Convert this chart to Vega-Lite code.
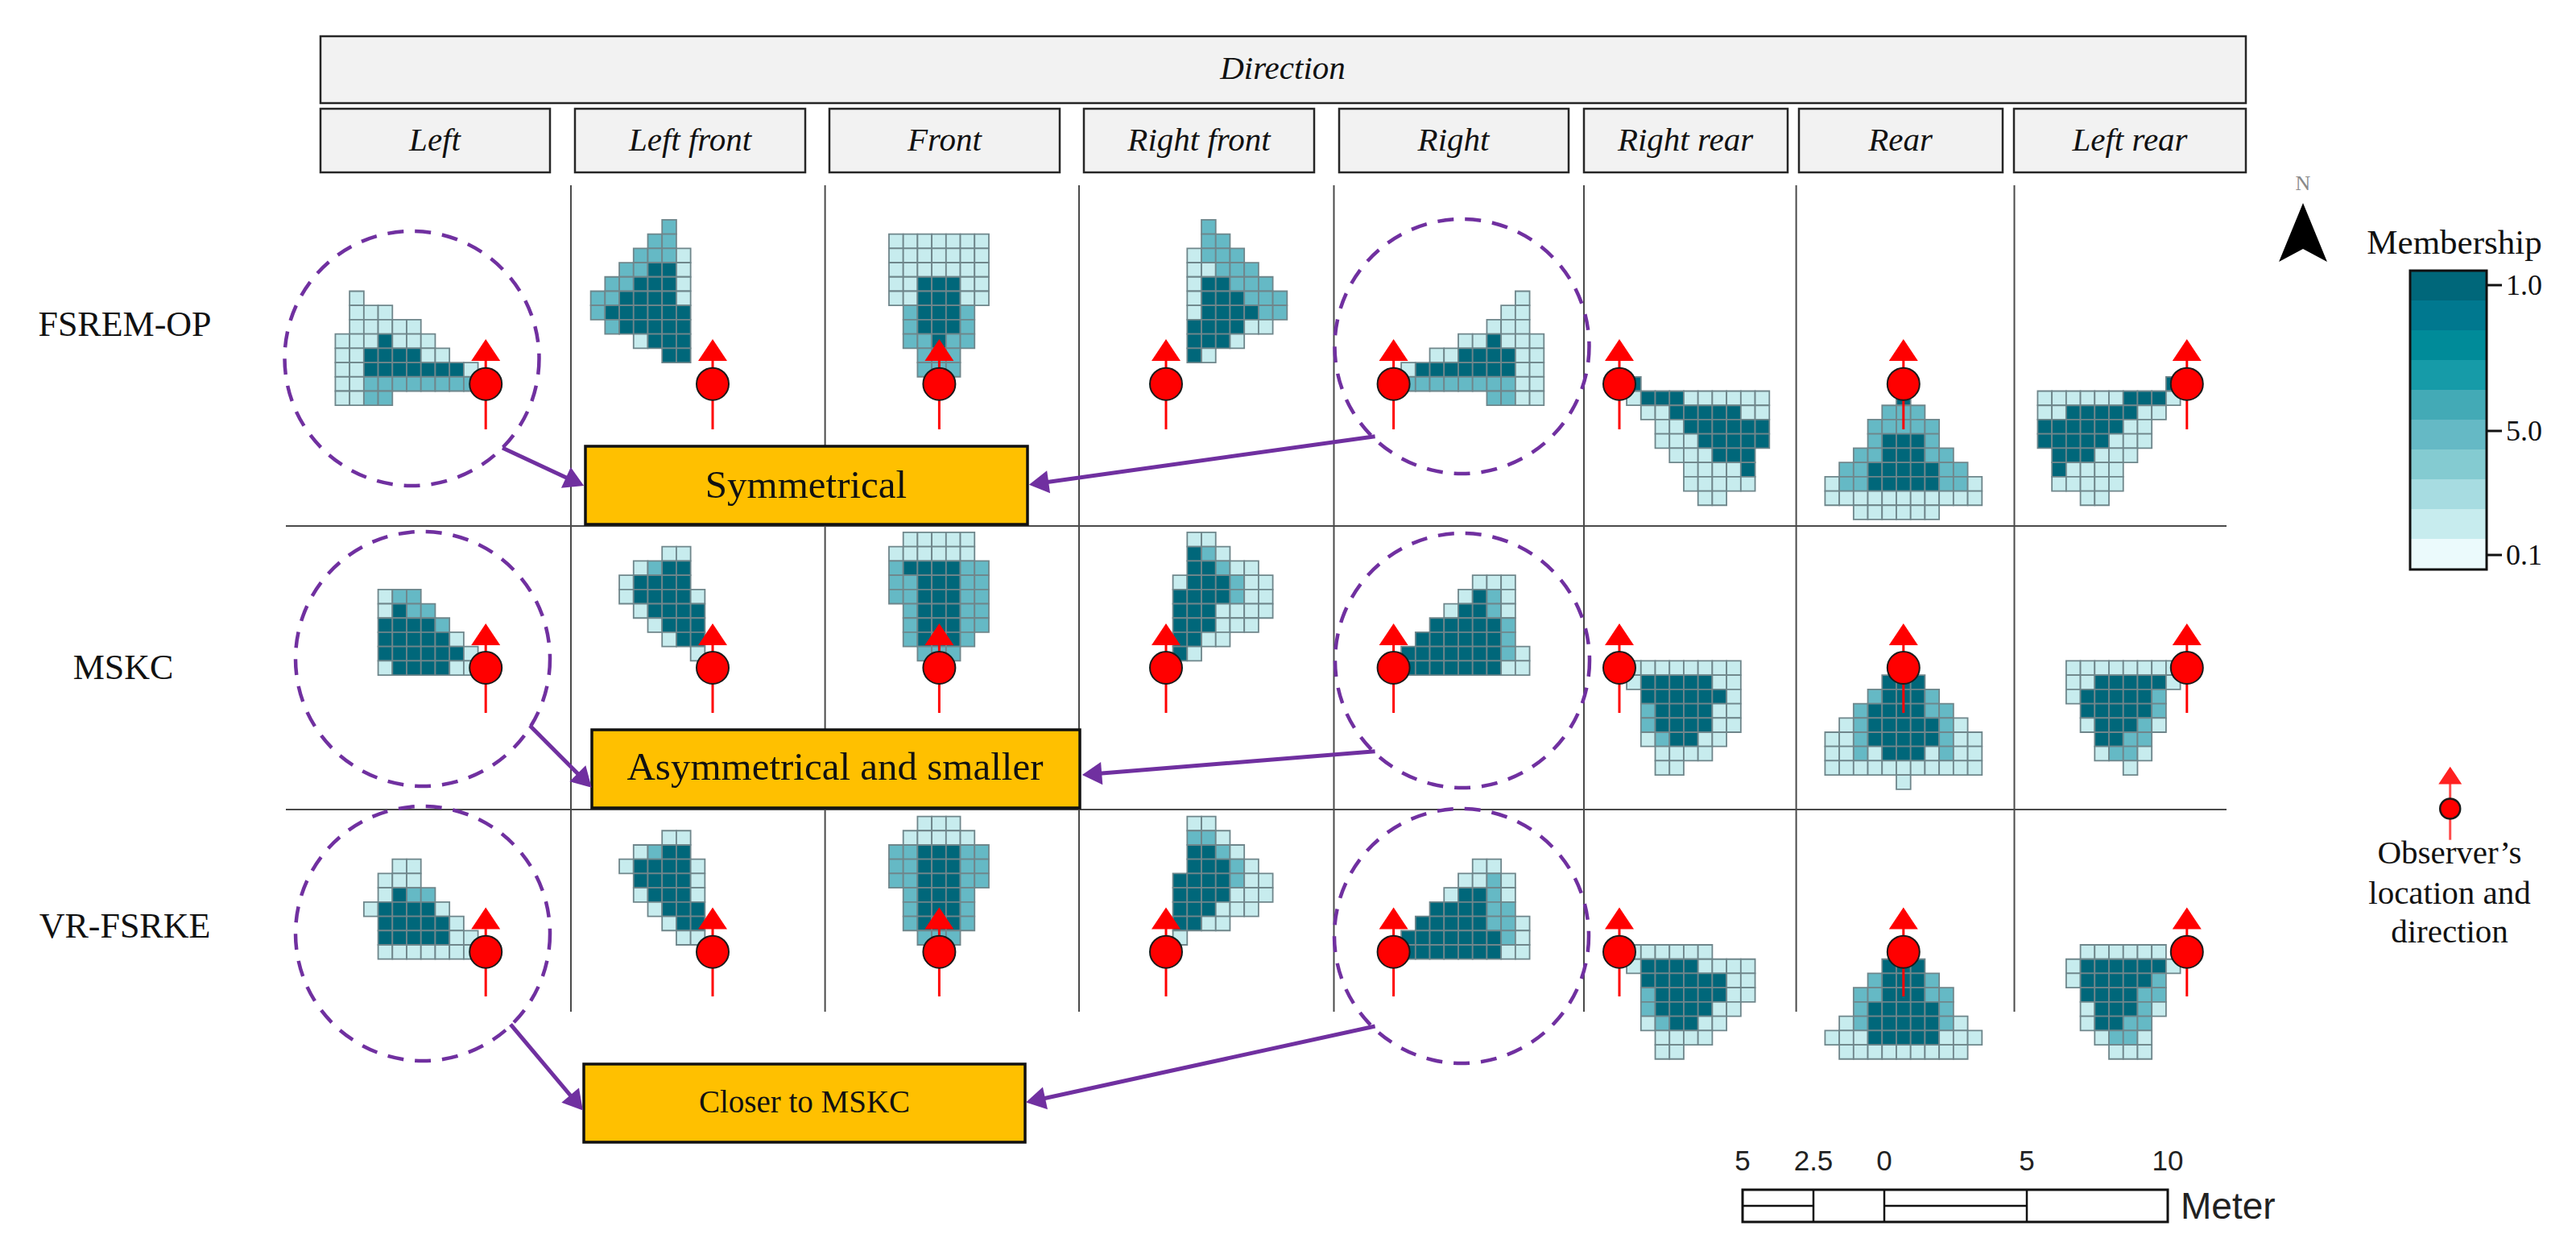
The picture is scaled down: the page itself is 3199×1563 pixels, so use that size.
{"$schema":"https://vega.github.io/schema/vega-lite/v6.json","width":3199,"height":1563,"autosize":{"type":"fit","contains":"padding"},"padding":0,"background":"white","config":{"view":{"stroke":null}},"resolve":{"scale":{"x":"independent","y":"independent"}},"layer":[
{"data":{"values":[
{"x":25,"y":20.9,"m":0.2},{"x":25,"y":21.9,"m":0.2},{"x":26,"y":21.9,"m":0.2},{"x":27,"y":21.9,"m":0.2},{"x":25,"y":22.9,"m":0.2},{"x":26,"y":22.9,"m":0.2},{"x":27,"y":22.9,"m":0.2},{"x":28,"y":22.9,"m":0.2},{"x":29,"y":22.9,"m":0.2},{"x":24,"y":23.9,"m":0.2},{"x":25,"y":23.9,"m":0.2},{"x":26,"y":23.9,"m":0.2},{"x":27,"y":23.9,"m":1},{"x":28,"y":23.9,"m":0.2},{"x":29,"y":23.9,"m":0.2},{"x":30,"y":23.9,"m":0.2},{"x":24,"y":24.9,"m":0.2},{"x":25,"y":24.9,"m":0.2},{"x":26,"y":24.9,"m":1},{"x":27,"y":24.9,"m":1},{"x":28,"y":24.9,"m":1},{"x":29,"y":24.9,"m":1},{"x":30,"y":24.9,"m":0.2},{"x":31,"y":24.9,"m":0.2},{"x":24,"y":25.9,"m":0.2},{"x":25,"y":25.9,"m":0.2},{"x":26,"y":25.9,"m":1},{"x":27,"y":25.9,"m":1},{"x":28,"y":25.9,"m":1},{"x":29,"y":25.9,"m":1},{"x":30,"y":25.9,"m":1},{"x":31,"y":25.9,"m":1},{"x":32,"y":25.9,"m":1},{"x":33,"y":25.9,"m":0.2},{"x":24,"y":26.9,"m":0.2},{"x":25,"y":26.9,"m":0.2},{"x":26,"y":26.9,"m":0.5},{"x":27,"y":26.9,"m":0.5},{"x":28,"y":26.9,"m":0.5},{"x":29,"y":26.9,"m":0.5},{"x":30,"y":26.9,"m":0.5},{"x":31,"y":26.9,"m":0.5},{"x":32,"y":26.9,"m":0.5},{"x":33,"y":26.9,"m":0.5},{"x":24,"y":27.9,"m":0.2},{"x":25,"y":27.9,"m":0.2},{"x":26,"y":27.9,"m":0.5},{"x":27,"y":27.9,"m":0.5},
{"x":46.9,"y":15.9,"m":0.5},{"x":45.9,"y":16.9,"m":0.5},{"x":46.9,"y":16.9,"m":0.5},{"x":44.9,"y":17.9,"m":0.5},{"x":45.9,"y":17.9,"m":0.5},{"x":46.9,"y":17.9,"m":0.5},{"x":47.9,"y":17.9,"m":0.2},{"x":43.9,"y":18.9,"m":0.5},{"x":44.9,"y":18.9,"m":0.5},{"x":45.9,"y":18.9,"m":1},{"x":46.9,"y":18.9,"m":1},{"x":47.9,"y":18.9,"m":0.2},{"x":42.9,"y":19.9,"m":0.5},{"x":43.9,"y":19.9,"m":0.5},{"x":44.9,"y":19.9,"m":1},{"x":45.9,"y":19.9,"m":1},{"x":46.9,"y":19.9,"m":1},{"x":47.9,"y":19.9,"m":0.2},{"x":41.9,"y":20.9,"m":0.5},{"x":42.9,"y":20.9,"m":0.5},{"x":43.9,"y":20.9,"m":1},{"x":44.9,"y":20.9,"m":1},{"x":45.9,"y":20.9,"m":1},{"x":46.9,"y":20.9,"m":1},{"x":47.9,"y":20.9,"m":0.2},{"x":41.9,"y":21.9,"m":0.5},{"x":42.9,"y":21.9,"m":1},{"x":43.9,"y":21.9,"m":1},{"x":44.9,"y":21.9,"m":1},{"x":45.9,"y":21.9,"m":1},{"x":46.9,"y":21.9,"m":1},{"x":47.9,"y":21.9,"m":1},{"x":42.9,"y":22.9,"m":0.5},{"x":43.9,"y":22.9,"m":1},{"x":44.9,"y":22.9,"m":1},{"x":45.9,"y":22.9,"m":1},{"x":46.9,"y":22.9,"m":1},{"x":47.9,"y":22.9,"m":1},{"x":44.9,"y":23.9,"m":0.2},{"x":45.9,"y":23.9,"m":1},{"x":46.9,"y":23.9,"m":1},{"x":47.9,"y":23.9,"m":1},{"x":46.9,"y":24.9,"m":1},{"x":47.9,"y":24.9,"m":1},
{"x":62.8,"y":16.9,"m":0.2},{"x":63.8,"y":16.9,"m":0.2},{"x":64.8,"y":16.9,"m":0.2},{"x":65.8,"y":16.9,"m":0.2},{"x":66.8,"y":16.9,"m":0.2},{"x":67.8,"y":16.9,"m":0.2},{"x":68.8,"y":16.9,"m":0.2},{"x":62.8,"y":17.9,"m":0.2},{"x":63.8,"y":17.9,"m":0.2},{"x":64.8,"y":17.9,"m":0.2},{"x":65.8,"y":17.9,"m":0.2},{"x":66.8,"y":17.9,"m":0.2},{"x":67.8,"y":17.9,"m":0.2},{"x":68.8,"y":17.9,"m":0.2},{"x":62.8,"y":18.9,"m":0.2},{"x":63.8,"y":18.9,"m":0.2},{"x":64.8,"y":18.9,"m":0.2},{"x":65.8,"y":18.9,"m":0.2},{"x":66.8,"y":18.9,"m":0.2},{"x":67.8,"y":18.9,"m":0.2},{"x":68.8,"y":18.9,"m":0.2},{"x":62.8,"y":19.9,"m":0.2},{"x":63.8,"y":19.9,"m":0.2},{"x":64.8,"y":19.9,"m":1},{"x":65.8,"y":19.9,"m":1},{"x":66.8,"y":19.9,"m":1},{"x":67.8,"y":19.9,"m":0.2},{"x":68.8,"y":19.9,"m":0.2},{"x":62.8,"y":20.9,"m":0.2},{"x":63.8,"y":20.9,"m":0.2},{"x":64.8,"y":20.9,"m":1},{"x":65.8,"y":20.9,"m":1},{"x":66.8,"y":20.9,"m":1},{"x":67.8,"y":20.9,"m":0.2},{"x":68.8,"y":20.9,"m":0.2},{"x":63.8,"y":21.9,"m":0.5},{"x":64.8,"y":21.9,"m":1},{"x":65.8,"y":21.9,"m":1},{"x":66.8,"y":21.9,"m":1},{"x":67.8,"y":21.9,"m":0.5},{"x":63.8,"y":22.9,"m":0.5},{"x":64.8,"y":22.9,"m":1},{"x":65.8,"y":22.9,"m":1},{"x":66.8,"y":22.9,"m":1},{"x":67.8,"y":22.9,"m":0.5},{"x":63.8,"y":23.9,"m":0.5},{"x":64.8,"y":23.9,"m":0.5},{"x":65.8,"y":23.9,"m":1},{"x":66.8,"y":23.9,"m":0.5},{"x":67.8,"y":23.9,"m":0.5},{"x":64.8,"y":24.9,"m":0.5},{"x":65.8,"y":24.9,"m":0.5},{"x":66.8,"y":24.9,"m":0.5},{"x":64.8,"y":25.9,"m":0.5},{"x":65.8,"y":25.9,"m":0.5},{"x":66.8,"y":25.9,"m":0.5},
{"x":84.7,"y":15.9,"m":0.5},{"x":84.7,"y":16.9,"m":0.5},{"x":85.7,"y":16.9,"m":0.5},{"x":83.7,"y":17.9,"m":0.2},{"x":84.7,"y":17.9,"m":0.5},{"x":85.7,"y":17.9,"m":0.5},{"x":86.7,"y":17.9,"m":0.5},{"x":83.7,"y":18.9,"m":0.2},{"x":84.7,"y":18.9,"m":0.2},{"x":85.7,"y":18.9,"m":0.5},{"x":86.7,"y":18.9,"m":0.5},{"x":87.7,"y":18.9,"m":0.5},{"x":83.7,"y":19.9,"m":0.2},{"x":84.7,"y":19.9,"m":1},{"x":85.7,"y":19.9,"m":1},{"x":86.7,"y":19.9,"m":0.5},{"x":87.7,"y":19.9,"m":0.5},{"x":88.7,"y":19.9,"m":0.5},{"x":83.7,"y":20.9,"m":0.2},{"x":84.7,"y":20.9,"m":1},{"x":85.7,"y":20.9,"m":1},{"x":86.7,"y":20.9,"m":1},{"x":87.7,"y":20.9,"m":0.5},{"x":88.7,"y":20.9,"m":0.5},{"x":89.7,"y":20.9,"m":0.5},{"x":83.7,"y":21.9,"m":0.2},{"x":84.7,"y":21.9,"m":1},{"x":85.7,"y":21.9,"m":1},{"x":86.7,"y":21.9,"m":1},{"x":87.7,"y":21.9,"m":1},{"x":88.7,"y":21.9,"m":0.5},{"x":89.7,"y":21.9,"m":0.5},{"x":83.7,"y":22.9,"m":1},{"x":84.7,"y":22.9,"m":1},{"x":85.7,"y":22.9,"m":1},{"x":86.7,"y":22.9,"m":1},{"x":87.7,"y":22.9,"m":0.2},{"x":88.7,"y":22.9,"m":0.2},{"x":83.7,"y":23.9,"m":1},{"x":84.7,"y":23.9,"m":1},{"x":85.7,"y":23.9,"m":1},{"x":86.7,"y":23.9,"m":0.2},{"x":83.7,"y":24.9,"m":1},{"x":84.7,"y":24.9,"m":0.2},
{"x":106.7,"y":20.9,"m":0.2},{"x":105.7,"y":21.9,"m":0.2},{"x":106.7,"y":21.9,"m":0.2},{"x":104.7,"y":22.9,"m":0.2},{"x":105.7,"y":22.9,"m":0.2},{"x":106.7,"y":22.9,"m":0.2},{"x":102.7,"y":23.9,"m":0.2},{"x":103.7,"y":23.9,"m":0.2},{"x":104.7,"y":23.9,"m":1},{"x":105.7,"y":23.9,"m":0.2},{"x":106.7,"y":23.9,"m":0.2},{"x":107.7,"y":23.9,"m":0.2},{"x":100.7,"y":24.9,"m":0.2},{"x":101.7,"y":24.9,"m":0.2},{"x":102.7,"y":24.9,"m":1},{"x":103.7,"y":24.9,"m":1},{"x":104.7,"y":24.9,"m":1},{"x":105.7,"y":24.9,"m":1},{"x":106.7,"y":24.9,"m":0.2},{"x":107.7,"y":24.9,"m":0.2},{"x":98.7,"y":25.9,"m":0.2},{"x":99.7,"y":25.9,"m":1},{"x":100.7,"y":25.9,"m":1},{"x":101.7,"y":25.9,"m":1},{"x":102.7,"y":25.9,"m":1},{"x":103.7,"y":25.9,"m":1},{"x":104.7,"y":25.9,"m":1},{"x":105.7,"y":25.9,"m":1},{"x":106.7,"y":25.9,"m":0.2},{"x":107.7,"y":25.9,"m":0.2},{"x":98.7,"y":26.9,"m":0.5},{"x":99.7,"y":26.9,"m":0.5},{"x":100.7,"y":26.9,"m":0.5},{"x":101.7,"y":26.9,"m":0.5},{"x":102.7,"y":26.9,"m":0.5},{"x":103.7,"y":26.9,"m":0.5},{"x":104.7,"y":26.9,"m":0.5},{"x":105.7,"y":26.9,"m":0.5},{"x":106.7,"y":26.9,"m":0.2},{"x":107.7,"y":26.9,"m":0.2},{"x":104.7,"y":27.9,"m":0.5},{"x":105.7,"y":27.9,"m":0.5},{"x":106.7,"y":27.9,"m":0.2},{"x":107.7,"y":27.9,"m":0.2},
{"x":114.5,"y":26.9,"m":1},{"x":114.5,"y":27.9,"m":0.2},{"x":115.5,"y":27.9,"m":1},{"x":116.5,"y":27.9,"m":1},{"x":117.5,"y":27.9,"m":1},{"x":118.5,"y":27.9,"m":0.2},{"x":119.5,"y":27.9,"m":0.2},{"x":120.5,"y":27.9,"m":0.2},{"x":121.5,"y":27.9,"m":0.2},{"x":122.5,"y":27.9,"m":0.2},{"x":123.5,"y":27.9,"m":0.2},{"x":115.5,"y":28.9,"m":0.2},{"x":116.5,"y":28.9,"m":0.2},{"x":117.5,"y":28.9,"m":1},{"x":118.5,"y":28.9,"m":1},{"x":119.5,"y":28.9,"m":1},{"x":120.5,"y":28.9,"m":1},{"x":121.5,"y":28.9,"m":1},{"x":122.5,"y":28.9,"m":0.2},{"x":123.5,"y":28.9,"m":0.2},{"x":116.5,"y":29.9,"m":0.2},{"x":117.5,"y":29.9,"m":0.2},{"x":118.5,"y":29.9,"m":1},{"x":119.5,"y":29.9,"m":1},{"x":120.5,"y":29.9,"m":1},{"x":121.5,"y":29.9,"m":1},{"x":122.5,"y":29.9,"m":1},{"x":123.5,"y":29.9,"m":1},{"x":116.5,"y":30.9,"m":0.2},{"x":117.5,"y":30.9,"m":0.2},{"x":118.5,"y":30.9,"m":0.2},{"x":119.5,"y":30.9,"m":1},{"x":120.5,"y":30.9,"m":1},{"x":121.5,"y":30.9,"m":1},{"x":122.5,"y":30.9,"m":1},{"x":123.5,"y":30.9,"m":1},{"x":117.5,"y":31.9,"m":0.2},{"x":118.5,"y":31.9,"m":0.2},{"x":119.5,"y":31.9,"m":0.2},{"x":120.5,"y":31.9,"m":1},{"x":121.5,"y":31.9,"m":1},{"x":122.5,"y":31.9,"m":1},{"x":118.5,"y":32.9,"m":0.2},{"x":119.5,"y":32.9,"m":0.2},{"x":120.5,"y":32.9,"m":0.2},{"x":121.5,"y":32.9,"m":0.2},{"x":122.5,"y":32.9,"m":1},{"x":118.5,"y":33.9,"m":0.2},{"x":119.5,"y":33.9,"m":0.2},{"x":120.5,"y":33.9,"m":0.2},{"x":121.5,"y":33.9,"m":0.2},{"x":122.5,"y":33.9,"m":0.2},{"x":119.5,"y":34.9,"m":0.2},{"x":120.5,"y":34.9,"m":0.2},
{"x":133.4,"y":27.9,"m":1},{"x":132.4,"y":28.9,"m":0.5},{"x":133.4,"y":28.9,"m":0.5},{"x":134.4,"y":28.9,"m":0.5},{"x":131.4,"y":29.9,"m":0.5},{"x":132.4,"y":29.9,"m":0.5},{"x":133.4,"y":29.9,"m":0.5},{"x":134.4,"y":29.9,"m":0.5},{"x":135.4,"y":29.9,"m":0.5},{"x":131.4,"y":30.9,"m":0.5},{"x":132.4,"y":30.9,"m":1},{"x":133.4,"y":30.9,"m":1},{"x":134.4,"y":30.9,"m":1},{"x":135.4,"y":30.9,"m":0.5},{"x":130.4,"y":31.9,"m":0.5},{"x":131.4,"y":31.9,"m":0.5},{"x":132.4,"y":31.9,"m":1},{"x":133.4,"y":31.9,"m":1},{"x":134.4,"y":31.9,"m":1},{"x":135.4,"y":31.9,"m":0.5},{"x":136.4,"y":31.9,"m":0.5},{"x":129.4,"y":32.9,"m":0.5},{"x":130.4,"y":32.9,"m":0.5},{"x":131.4,"y":32.9,"m":1},{"x":132.4,"y":32.9,"m":1},{"x":133.4,"y":32.9,"m":1},{"x":134.4,"y":32.9,"m":1},{"x":135.4,"y":32.9,"m":1},{"x":136.4,"y":32.9,"m":0.5},{"x":137.4,"y":32.9,"m":0.5},{"x":128.4,"y":33.9,"m":0.2},{"x":129.4,"y":33.9,"m":0.5},{"x":130.4,"y":33.9,"m":0.5},{"x":131.4,"y":33.9,"m":1},{"x":132.4,"y":33.9,"m":1},{"x":133.4,"y":33.9,"m":1},{"x":134.4,"y":33.9,"m":1},{"x":135.4,"y":33.9,"m":1},{"x":136.4,"y":33.9,"m":0.5},{"x":137.4,"y":33.9,"m":0.5},{"x":138.4,"y":33.9,"m":0.2},{"x":128.4,"y":34.9,"m":0.2},{"x":129.4,"y":34.9,"m":0.2},{"x":130.4,"y":34.9,"m":0.2},{"x":131.4,"y":34.9,"m":0.2},{"x":132.4,"y":34.9,"m":0.2},{"x":133.4,"y":34.9,"m":0.2},{"x":134.4,"y":34.9,"m":0.2},{"x":135.4,"y":34.9,"m":0.2},{"x":136.4,"y":34.9,"m":0.2},{"x":137.4,"y":34.9,"m":0.2},{"x":138.4,"y":34.9,"m":0.2},{"x":130.4,"y":35.9,"m":0.2},{"x":131.4,"y":35.9,"m":0.2},{"x":132.4,"y":35.9,"m":0.2},{"x":133.4,"y":35.9,"m":0.2},{"x":134.4,"y":35.9,"m":0.2},{"x":135.4,"y":35.9,"m":0.2},
{"x":152.3,"y":26.9,"m":1},{"x":143.3,"y":27.9,"m":0.2},{"x":144.3,"y":27.9,"m":0.2},{"x":145.3,"y":27.9,"m":0.2},{"x":146.3,"y":27.9,"m":0.2},{"x":147.3,"y":27.9,"m":0.2},{"x":148.3,"y":27.9,"m":0.2},{"x":149.3,"y":27.9,"m":1},{"x":150.3,"y":27.9,"m":1},{"x":151.3,"y":27.9,"m":1},{"x":152.3,"y":27.9,"m":0.2},{"x":143.3,"y":28.9,"m":0.2},{"x":144.3,"y":28.9,"m":0.2},{"x":145.3,"y":28.9,"m":1},{"x":146.3,"y":28.9,"m":1},{"x":147.3,"y":28.9,"m":1},{"x":148.3,"y":28.9,"m":1},{"x":149.3,"y":28.9,"m":1},{"x":150.3,"y":28.9,"m":0.2},{"x":151.3,"y":28.9,"m":0.2},{"x":143.3,"y":29.9,"m":1},{"x":144.3,"y":29.9,"m":1},{"x":145.3,"y":29.9,"m":1},{"x":146.3,"y":29.9,"m":1},{"x":147.3,"y":29.9,"m":1},{"x":148.3,"y":29.9,"m":1},{"x":149.3,"y":29.9,"m":0.2},{"x":150.3,"y":29.9,"m":0.2},{"x":143.3,"y":30.9,"m":1},{"x":144.3,"y":30.9,"m":1},{"x":145.3,"y":30.9,"m":1},{"x":146.3,"y":30.9,"m":1},{"x":147.3,"y":30.9,"m":1},{"x":148.3,"y":30.9,"m":0.2},{"x":149.3,"y":30.9,"m":0.2},{"x":150.3,"y":30.9,"m":0.2},{"x":144.3,"y":31.9,"m":1},{"x":145.3,"y":31.9,"m":1},{"x":146.3,"y":31.9,"m":1},{"x":147.3,"y":31.9,"m":0.2},{"x":148.3,"y":31.9,"m":0.2},{"x":149.3,"y":31.9,"m":0.2},{"x":144.3,"y":32.9,"m":1},{"x":145.3,"y":32.9,"m":0.2},{"x":146.3,"y":32.9,"m":0.2},{"x":147.3,"y":32.9,"m":0.2},{"x":148.3,"y":32.9,"m":0.2},{"x":144.3,"y":33.9,"m":0.2},{"x":145.3,"y":33.9,"m":0.2},{"x":146.3,"y":33.9,"m":0.2},{"x":147.3,"y":33.9,"m":0.2},{"x":148.3,"y":33.9,"m":0.2},{"x":146.3,"y":34.9,"m":0.2},{"x":147.3,"y":34.9,"m":0.2},
{"x":27,"y":41.8,"m":0.2},{"x":28,"y":41.8,"m":0.5},{"x":29,"y":41.8,"m":0.5},{"x":27,"y":42.8,"m":0.2},{"x":28,"y":42.8,"m":1},{"x":29,"y":42.8,"m":0.5},{"x":30,"y":42.8,"m":0.5},{"x":27,"y":43.8,"m":1},{"x":28,"y":43.8,"m":1},{"x":29,"y":43.8,"m":1},{"x":30,"y":43.8,"m":1},{"x":31,"y":43.8,"m":0.5},{"x":27,"y":44.8,"m":1},{"x":28,"y":44.8,"m":1},{"x":29,"y":44.8,"m":1},{"x":30,"y":44.8,"m":1},{"x":31,"y":44.8,"m":1},{"x":32,"y":44.8,"m":0.2},{"x":27,"y":45.8,"m":1},{"x":28,"y":45.8,"m":1},{"x":29,"y":45.8,"m":1},{"x":30,"y":45.8,"m":1},{"x":31,"y":45.8,"m":1},{"x":32,"y":45.8,"m":1},{"x":33,"y":45.8,"m":0.2},{"x":27,"y":46.8,"m":0.2},{"x":28,"y":46.8,"m":1},{"x":29,"y":46.8,"m":1},{"x":30,"y":46.8,"m":1},{"x":31,"y":46.8,"m":1},{"x":32,"y":46.8,"m":0.2},{"x":33,"y":46.8,"m":0.2},
{"x":46.9,"y":38.8,"m":0.2},{"x":47.9,"y":38.8,"m":0.2},{"x":44.9,"y":39.8,"m":0.2},{"x":45.9,"y":39.8,"m":0.5},{"x":46.9,"y":39.8,"m":1},{"x":47.9,"y":39.8,"m":1},{"x":43.9,"y":40.8,"m":0.2},{"x":44.9,"y":40.8,"m":1},{"x":45.9,"y":40.8,"m":1},{"x":46.9,"y":40.8,"m":1},{"x":47.9,"y":40.8,"m":1},{"x":43.9,"y":41.8,"m":0.2},{"x":44.9,"y":41.8,"m":1},{"x":45.9,"y":41.8,"m":1},{"x":46.9,"y":41.8,"m":1},{"x":47.9,"y":41.8,"m":1},{"x":48.9,"y":41.8,"m":0.2},{"x":44.9,"y":42.8,"m":0.2},{"x":45.9,"y":42.8,"m":1},{"x":46.9,"y":42.8,"m":1},{"x":47.9,"y":42.8,"m":1},{"x":48.9,"y":42.8,"m":1},{"x":45.9,"y":43.8,"m":0.2},{"x":46.9,"y":43.8,"m":1},{"x":47.9,"y":43.8,"m":1},{"x":48.9,"y":43.8,"m":1},{"x":46.9,"y":44.8,"m":0.2},{"x":47.9,"y":44.8,"m":1},{"x":48.9,"y":44.8,"m":1},{"x":48.9,"y":45.8,"m":0.2},
{"x":63.8,"y":37.8,"m":0.2},{"x":64.8,"y":37.8,"m":0.2},{"x":65.8,"y":37.8,"m":0.2},{"x":66.8,"y":37.8,"m":0.2},{"x":67.8,"y":37.8,"m":0.2},{"x":62.8,"y":38.8,"m":0.2},{"x":63.8,"y":38.8,"m":0.2},{"x":64.8,"y":38.8,"m":0.2},{"x":65.8,"y":38.8,"m":0.2},{"x":66.8,"y":38.8,"m":0.2},{"x":67.8,"y":38.8,"m":0.2},{"x":62.8,"y":39.8,"m":0.5},{"x":63.8,"y":39.8,"m":1},{"x":64.8,"y":39.8,"m":1},{"x":65.8,"y":39.8,"m":1},{"x":66.8,"y":39.8,"m":1},{"x":67.8,"y":39.8,"m":0.5},{"x":68.8,"y":39.8,"m":0.5},{"x":62.8,"y":40.8,"m":0.5},{"x":63.8,"y":40.8,"m":0.5},{"x":64.8,"y":40.8,"m":1},{"x":65.8,"y":40.8,"m":1},{"x":66.8,"y":40.8,"m":1},{"x":67.8,"y":40.8,"m":0.5},{"x":68.8,"y":40.8,"m":0.5},{"x":62.8,"y":41.8,"m":0.5},{"x":63.8,"y":41.8,"m":0.5},{"x":64.8,"y":41.8,"m":1},{"x":65.8,"y":41.8,"m":1},{"x":66.8,"y":41.8,"m":1},{"x":67.8,"y":41.8,"m":0.5},{"x":68.8,"y":41.8,"m":0.5},{"x":63.8,"y":42.8,"m":0.5},{"x":64.8,"y":42.8,"m":1},{"x":65.8,"y":42.8,"m":1},{"x":66.8,"y":42.8,"m":1},{"x":67.8,"y":42.8,"m":0.5},{"x":68.8,"y":42.8,"m":0.5},{"x":63.8,"y":43.8,"m":0.5},{"x":64.8,"y":43.8,"m":1},{"x":65.8,"y":43.8,"m":1},{"x":66.8,"y":43.8,"m":1},{"x":67.8,"y":43.8,"m":0.5},{"x":68.8,"y":43.8,"m":0.5},{"x":63.8,"y":44.8,"m":0.5},{"x":64.8,"y":44.8,"m":1},{"x":65.8,"y":44.8,"m":1},{"x":66.8,"y":44.8,"m":1},{"x":67.8,"y":44.8,"m":0.5},{"x":64.8,"y":45.8,"m":0.5},{"x":65.8,"y":45.8,"m":0.5},{"x":66.8,"y":45.8,"m":0.5},
{"x":83.7,"y":37.8,"m":0.2},{"x":84.7,"y":37.8,"m":0.2},{"x":83.7,"y":38.8,"m":1},{"x":84.7,"y":38.8,"m":0.5},{"x":85.7,"y":38.8,"m":0.2},{"x":83.7,"y":39.8,"m":1},{"x":84.7,"y":39.8,"m":1},{"x":85.7,"y":39.8,"m":0.5},{"x":86.7,"y":39.8,"m":0.2},{"x":87.7,"y":39.8,"m":0.2},{"x":82.7,"y":40.8,"m":0.2},{"x":83.7,"y":40.8,"m":1},{"x":84.7,"y":40.8,"m":1},{"x":85.7,"y":40.8,"m":1},{"x":86.7,"y":40.8,"m":0.5},{"x":87.7,"y":40.8,"m":0.2},{"x":88.7,"y":40.8,"m":0.2},{"x":82.7,"y":41.8,"m":1},{"x":83.7,"y":41.8,"m":1},{"x":84.7,"y":41.8,"m":1},{"x":85.7,"y":41.8,"m":1},{"x":86.7,"y":41.8,"m":0.5},{"x":87.7,"y":41.8,"m":0.2},{"x":88.7,"y":41.8,"m":0.2},{"x":82.7,"y":42.8,"m":1},{"x":83.7,"y":42.8,"m":1},{"x":84.7,"y":42.8,"m":1},{"x":85.7,"y":42.8,"m":0.2},{"x":86.7,"y":42.8,"m":0.2},{"x":87.7,"y":42.8,"m":0.2},{"x":88.7,"y":42.8,"m":0.2},{"x":82.7,"y":43.8,"m":1},{"x":83.7,"y":43.8,"m":1},{"x":84.7,"y":43.8,"m":1},{"x":85.7,"y":43.8,"m":0.2},{"x":86.7,"y":43.8,"m":0.2},{"x":87.7,"y":43.8,"m":0.2},{"x":82.7,"y":44.8,"m":1},{"x":83.7,"y":44.8,"m":1},{"x":84.7,"y":44.8,"m":0.2},{"x":85.7,"y":44.8,"m":0.2},{"x":82.7,"y":45.8,"m":1},{"x":83.7,"y":45.8,"m":0.2},
{"x":103.7,"y":40.8,"m":0.2},{"x":104.7,"y":40.8,"m":0.2},{"x":105.7,"y":40.8,"m":0.2},{"x":102.7,"y":41.8,"m":0.2},{"x":103.7,"y":41.8,"m":1},{"x":104.7,"y":41.8,"m":0.5},{"x":105.7,"y":41.8,"m":0.2},{"x":101.7,"y":42.8,"m":0.2},{"x":102.7,"y":42.8,"m":1},{"x":103.7,"y":42.8,"m":1},{"x":104.7,"y":42.8,"m":0.5},{"x":105.7,"y":42.8,"m":0.2},{"x":100.7,"y":43.8,"m":1},{"x":101.7,"y":43.8,"m":1},{"x":102.7,"y":43.8,"m":1},{"x":103.7,"y":43.8,"m":1},{"x":104.7,"y":43.8,"m":1},{"x":105.7,"y":43.8,"m":0.5},{"x":99.7,"y":44.8,"m":1},{"x":100.7,"y":44.8,"m":1},{"x":101.7,"y":44.8,"m":1},{"x":102.7,"y":44.8,"m":1},{"x":103.7,"y":44.8,"m":1},{"x":104.7,"y":44.8,"m":1},{"x":105.7,"y":44.8,"m":0.5},{"x":98.7,"y":45.8,"m":1},{"x":99.7,"y":45.8,"m":1},{"x":100.7,"y":45.8,"m":1},{"x":101.7,"y":45.8,"m":1},{"x":102.7,"y":45.8,"m":1},{"x":103.7,"y":45.8,"m":1},{"x":104.7,"y":45.8,"m":1},{"x":105.7,"y":45.8,"m":0.5},{"x":106.7,"y":45.8,"m":0.2},{"x":98.7,"y":46.8,"m":1},{"x":99.7,"y":46.8,"m":1},{"x":100.7,"y":46.8,"m":1},{"x":101.7,"y":46.8,"m":1},{"x":102.7,"y":46.8,"m":1},{"x":103.7,"y":46.8,"m":1},{"x":104.7,"y":46.8,"m":1},{"x":105.7,"y":46.8,"m":0.2},{"x":106.7,"y":46.8,"m":0.2},
{"x":114.5,"y":46.8,"m":0.2},{"x":115.5,"y":46.8,"m":0.2},{"x":116.5,"y":46.8,"m":0.2},{"x":117.5,"y":46.8,"m":0.2},{"x":118.5,"y":46.8,"m":0.2},{"x":119.5,"y":46.8,"m":0.2},{"x":120.5,"y":46.8,"m":0.2},{"x":121.5,"y":46.8,"m":0.2},{"x":114.5,"y":47.8,"m":0.2},{"x":115.5,"y":47.8,"m":1},{"x":116.5,"y":47.8,"m":1},{"x":117.5,"y":47.8,"m":1},{"x":118.5,"y":47.8,"m":1},{"x":119.5,"y":47.8,"m":1},{"x":120.5,"y":47.8,"m":0.2},{"x":121.5,"y":47.8,"m":0.2},{"x":115.5,"y":48.8,"m":1},{"x":116.5,"y":48.8,"m":1},{"x":117.5,"y":48.8,"m":1},{"x":118.5,"y":48.8,"m":1},{"x":119.5,"y":48.8,"m":1},{"x":120.5,"y":48.8,"m":1},{"x":121.5,"y":48.8,"m":0.2},{"x":115.5,"y":49.8,"m":0.5},{"x":116.5,"y":49.8,"m":1},{"x":117.5,"y":49.8,"m":1},{"x":118.5,"y":49.8,"m":1},{"x":119.5,"y":49.8,"m":1},{"x":120.5,"y":49.8,"m":0.2},{"x":121.5,"y":49.8,"m":0.2},{"x":115.5,"y":50.8,"m":0.5},{"x":116.5,"y":50.8,"m":1},{"x":117.5,"y":50.8,"m":1},{"x":118.5,"y":50.8,"m":1},{"x":119.5,"y":50.8,"m":1},{"x":120.5,"y":50.8,"m":0.2},{"x":121.5,"y":50.8,"m":0.2},{"x":115.5,"y":51.8,"m":0.2},{"x":116.5,"y":51.8,"m":0.5},{"x":117.5,"y":51.8,"m":1},{"x":118.5,"y":51.8,"m":1},{"x":119.5,"y":51.8,"m":0.2},{"x":120.5,"y":51.8,"m":0.2},{"x":116.5,"y":52.8,"m":0.2},{"x":117.5,"y":52.8,"m":0.2},{"x":118.5,"y":52.8,"m":0.2},{"x":119.5,"y":52.8,"m":0.2},{"x":116.5,"y":53.8,"m":0.2},{"x":117.5,"y":53.8,"m":0.2},
{"x":132.4,"y":47.8,"m":1},{"x":133.4,"y":47.8,"m":1},{"x":134.4,"y":47.8,"m":1},{"x":131.4,"y":48.8,"m":0.5},{"x":132.4,"y":48.8,"m":1},{"x":133.4,"y":48.8,"m":1},{"x":134.4,"y":48.8,"m":1},{"x":135.4,"y":48.8,"m":0.5},{"x":130.4,"y":49.8,"m":0.5},{"x":131.4,"y":49.8,"m":1},{"x":132.4,"y":49.8,"m":1},{"x":133.4,"y":49.8,"m":1},{"x":134.4,"y":49.8,"m":1},{"x":135.4,"y":49.8,"m":0.5},{"x":136.4,"y":49.8,"m":0.5},{"x":129.4,"y":50.8,"m":0.2},{"x":130.4,"y":50.8,"m":0.5},{"x":131.4,"y":50.8,"m":1},{"x":132.4,"y":50.8,"m":1},{"x":133.4,"y":50.8,"m":1},{"x":134.4,"y":50.8,"m":1},{"x":135.4,"y":50.8,"m":1},{"x":136.4,"y":50.8,"m":0.5},{"x":137.4,"y":50.8,"m":0.2},{"x":128.4,"y":51.8,"m":0.2},{"x":129.4,"y":51.8,"m":0.2},{"x":130.4,"y":51.8,"m":0.5},{"x":131.4,"y":51.8,"m":1},{"x":132.4,"y":51.8,"m":1},{"x":133.4,"y":51.8,"m":1},{"x":134.4,"y":51.8,"m":1},{"x":135.4,"y":51.8,"m":1},{"x":136.4,"y":51.8,"m":0.5},{"x":137.4,"y":51.8,"m":0.2},{"x":138.4,"y":51.8,"m":0.2},{"x":128.4,"y":52.8,"m":0.2},{"x":129.4,"y":52.8,"m":0.2},{"x":130.4,"y":52.8,"m":0.5},{"x":131.4,"y":52.8,"m":0.2},{"x":132.4,"y":52.8,"m":1},{"x":133.4,"y":52.8,"m":1},{"x":134.4,"y":52.8,"m":1},{"x":135.4,"y":52.8,"m":0.2},{"x":136.4,"y":52.8,"m":0.5},{"x":137.4,"y":52.8,"m":0.2},{"x":138.4,"y":52.8,"m":0.2},{"x":128.4,"y":53.8,"m":0.2},{"x":129.4,"y":53.8,"m":0.2},{"x":130.4,"y":53.8,"m":0.2},{"x":131.4,"y":53.8,"m":0.2},{"x":132.4,"y":53.8,"m":0.2},{"x":133.4,"y":53.8,"m":0.2},{"x":134.4,"y":53.8,"m":0.2},{"x":135.4,"y":53.8,"m":0.2},{"x":136.4,"y":53.8,"m":0.2},{"x":137.4,"y":53.8,"m":0.2},{"x":138.4,"y":53.8,"m":0.2},{"x":133.4,"y":54.8,"m":0.2},
{"x":145.3,"y":46.8,"m":0.2},{"x":146.3,"y":46.8,"m":0.2},{"x":147.3,"y":46.8,"m":0.2},{"x":148.3,"y":46.8,"m":0.2},{"x":149.3,"y":46.8,"m":0.2},{"x":150.3,"y":46.8,"m":0.2},{"x":151.3,"y":46.8,"m":0.2},{"x":152.3,"y":46.8,"m":0.2},{"x":145.3,"y":47.8,"m":0.2},{"x":146.3,"y":47.8,"m":0.2},{"x":147.3,"y":47.8,"m":1},{"x":148.3,"y":47.8,"m":1},{"x":149.3,"y":47.8,"m":1},{"x":150.3,"y":47.8,"m":1},{"x":151.3,"y":47.8,"m":1},{"x":152.3,"y":47.8,"m":0.2},{"x":145.3,"y":48.8,"m":0.2},{"x":146.3,"y":48.8,"m":1},{"x":147.3,"y":48.8,"m":1},{"x":148.3,"y":48.8,"m":1},{"x":149.3,"y":48.8,"m":1},{"x":150.3,"y":48.8,"m":1},{"x":151.3,"y":48.8,"m":0.5},{"x":146.3,"y":49.8,"m":1},{"x":147.3,"y":49.8,"m":1},{"x":148.3,"y":49.8,"m":1},{"x":149.3,"y":49.8,"m":1},{"x":150.3,"y":49.8,"m":1},{"x":151.3,"y":49.8,"m":0.5},{"x":146.3,"y":50.8,"m":0.2},{"x":147.3,"y":50.8,"m":1},{"x":148.3,"y":50.8,"m":1},{"x":149.3,"y":50.8,"m":1},{"x":150.3,"y":50.8,"m":0.5},{"x":151.3,"y":50.8,"m":0.2},{"x":147.3,"y":51.8,"m":1},{"x":148.3,"y":51.8,"m":1},{"x":149.3,"y":51.8,"m":0.5},{"x":150.3,"y":51.8,"m":0.5},{"x":147.3,"y":52.8,"m":0.2},{"x":148.3,"y":52.8,"m":0.5},{"x":149.3,"y":52.8,"m":0.5},{"x":150.3,"y":52.8,"m":0.2},{"x":149.3,"y":53.8,"m":0.2},
{"x":28,"y":60.7,"m":0.2},{"x":29,"y":60.7,"m":0.2},{"x":27,"y":61.7,"m":0.2},{"x":28,"y":61.7,"m":0.2},{"x":29,"y":61.7,"m":0.2},{"x":27,"y":62.7,"m":0.2},{"x":28,"y":62.7,"m":1},{"x":29,"y":62.7,"m":0.5},{"x":30,"y":62.7,"m":0.5},{"x":26,"y":63.7,"m":0.2},{"x":27,"y":63.7,"m":1},{"x":28,"y":63.7,"m":1},{"x":29,"y":63.7,"m":1},{"x":30,"y":63.7,"m":1},{"x":31,"y":63.7,"m":0.2},{"x":27,"y":64.7,"m":1},{"x":28,"y":64.7,"m":1},{"x":29,"y":64.7,"m":1},{"x":30,"y":64.7,"m":1},{"x":31,"y":64.7,"m":1},{"x":32,"y":64.7,"m":0.2},{"x":27,"y":65.7,"m":1},{"x":28,"y":65.7,"m":1},{"x":29,"y":65.7,"m":1},{"x":30,"y":65.7,"m":1},{"x":31,"y":65.7,"m":1},{"x":32,"y":65.7,"m":0.2},{"x":33,"y":65.7,"m":0.2},{"x":27,"y":66.7,"m":0.2},{"x":28,"y":66.7,"m":0.2},{"x":29,"y":66.7,"m":0.2},{"x":30,"y":66.7,"m":0.2},{"x":31,"y":66.7,"m":0.2},{"x":32,"y":66.7,"m":0.2},{"x":33,"y":66.7,"m":0.2},
{"x":46.9,"y":58.7,"m":0.2},{"x":47.9,"y":58.7,"m":0.2},{"x":44.9,"y":59.7,"m":0.2},{"x":45.9,"y":59.7,"m":0.5},{"x":46.9,"y":59.7,"m":1},{"x":47.9,"y":59.7,"m":1},{"x":43.9,"y":60.7,"m":0.2},{"x":44.9,"y":60.7,"m":1},{"x":45.9,"y":60.7,"m":1},{"x":46.9,"y":60.7,"m":1},{"x":47.9,"y":60.7,"m":1},{"x":48.9,"y":60.7,"m":0.2},{"x":44.9,"y":61.7,"m":1},{"x":45.9,"y":61.7,"m":1},{"x":46.9,"y":61.7,"m":1},{"x":47.9,"y":61.7,"m":1},{"x":48.9,"y":61.7,"m":0.2},{"x":44.9,"y":62.7,"m":0.2},{"x":45.9,"y":62.7,"m":1},{"x":46.9,"y":62.7,"m":1},{"x":47.9,"y":62.7,"m":1},{"x":48.9,"y":62.7,"m":0.2},{"x":45.9,"y":63.7,"m":0.2},{"x":46.9,"y":63.7,"m":1},{"x":47.9,"y":63.7,"m":1},{"x":48.9,"y":63.7,"m":1},{"x":46.9,"y":64.7,"m":0.2},{"x":47.9,"y":64.7,"m":1},{"x":48.9,"y":64.7,"m":1},{"x":47.9,"y":65.7,"m":0.2},{"x":48.9,"y":65.7,"m":0.2},
{"x":64.8,"y":57.7,"m":0.2},{"x":65.8,"y":57.7,"m":0.2},{"x":66.8,"y":57.7,"m":0.2},{"x":63.8,"y":58.7,"m":0.2},{"x":64.8,"y":58.7,"m":0.2},{"x":65.8,"y":58.7,"m":0.2},{"x":66.8,"y":58.7,"m":0.2},{"x":67.8,"y":58.7,"m":0.2},{"x":62.8,"y":59.7,"m":0.5},{"x":63.8,"y":59.7,"m":0.5},{"x":64.8,"y":59.7,"m":1},{"x":65.8,"y":59.7,"m":1},{"x":66.8,"y":59.7,"m":1},{"x":67.8,"y":59.7,"m":0.5},{"x":68.8,"y":59.7,"m":0.5},{"x":62.8,"y":60.7,"m":0.5},{"x":63.8,"y":60.7,"m":0.5},{"x":64.8,"y":60.7,"m":1},{"x":65.8,"y":60.7,"m":1},{"x":66.8,"y":60.7,"m":1},{"x":67.8,"y":60.7,"m":0.5},{"x":68.8,"y":60.7,"m":0.5},{"x":62.8,"y":61.7,"m":0.5},{"x":63.8,"y":61.7,"m":0.5},{"x":64.8,"y":61.7,"m":1},{"x":65.8,"y":61.7,"m":1},{"x":66.8,"y":61.7,"m":1},{"x":67.8,"y":61.7,"m":0.5},{"x":68.8,"y":61.7,"m":0.5},{"x":63.8,"y":62.7,"m":0.5},{"x":64.8,"y":62.7,"m":1},{"x":65.8,"y":62.7,"m":1},{"x":66.8,"y":62.7,"m":1},{"x":67.8,"y":62.7,"m":0.5},{"x":63.8,"y":63.7,"m":0.5},{"x":64.8,"y":63.7,"m":1},{"x":65.8,"y":63.7,"m":1},{"x":66.8,"y":63.7,"m":1},{"x":67.8,"y":63.7,"m":0.5},{"x":63.8,"y":64.7,"m":0.5},{"x":64.8,"y":64.7,"m":1},{"x":65.8,"y":64.7,"m":1},{"x":66.8,"y":64.7,"m":1},{"x":67.8,"y":64.7,"m":0.5},{"x":64.8,"y":65.7,"m":0.5},{"x":65.8,"y":65.7,"m":0.5},{"x":66.8,"y":65.7,"m":0.5},
{"x":83.7,"y":57.7,"m":0.2},{"x":84.7,"y":57.7,"m":0.2},{"x":83.7,"y":58.7,"m":0.5},{"x":84.7,"y":58.7,"m":0.5},{"x":85.7,"y":58.7,"m":0.2},{"x":83.7,"y":59.7,"m":1},{"x":84.7,"y":59.7,"m":1},{"x":85.7,"y":59.7,"m":0.5},{"x":86.7,"y":59.7,"m":0.2},{"x":83.7,"y":60.7,"m":1},{"x":84.7,"y":60.7,"m":1},{"x":85.7,"y":60.7,"m":1},{"x":86.7,"y":60.7,"m":0.5},{"x":87.7,"y":60.7,"m":0.2},{"x":82.7,"y":61.7,"m":1},{"x":83.7,"y":61.7,"m":1},{"x":84.7,"y":61.7,"m":1},{"x":85.7,"y":61.7,"m":1},{"x":86.7,"y":61.7,"m":0.5},{"x":87.7,"y":61.7,"m":0.2},{"x":88.7,"y":61.7,"m":0.2},{"x":82.7,"y":62.7,"m":1},{"x":83.7,"y":62.7,"m":1},{"x":84.7,"y":62.7,"m":1},{"x":85.7,"y":62.7,"m":1},{"x":86.7,"y":62.7,"m":0.2},{"x":87.7,"y":62.7,"m":0.2},{"x":88.7,"y":62.7,"m":0.2},{"x":82.7,"y":63.7,"m":1},{"x":83.7,"y":63.7,"m":1},{"x":84.7,"y":63.7,"m":1},{"x":85.7,"y":63.7,"m":0.2},{"x":86.7,"y":63.7,"m":0.2},{"x":87.7,"y":63.7,"m":0.2},{"x":82.7,"y":64.7,"m":1},{"x":83.7,"y":64.7,"m":1},{"x":84.7,"y":64.7,"m":0.2},{"x":85.7,"y":64.7,"m":0.2},{"x":82.7,"y":65.7,"m":0.2},
{"x":103.7,"y":60.7,"m":0.2},{"x":104.7,"y":60.7,"m":0.2},{"x":102.7,"y":61.7,"m":0.2},{"x":103.7,"y":61.7,"m":0.2},{"x":104.7,"y":61.7,"m":0.5},{"x":105.7,"y":61.7,"m":0.2},{"x":101.7,"y":62.7,"m":0.2},{"x":102.7,"y":62.7,"m":1},{"x":103.7,"y":62.7,"m":1},{"x":104.7,"y":62.7,"m":0.5},{"x":105.7,"y":62.7,"m":0.2},{"x":100.7,"y":63.7,"m":1},{"x":101.7,"y":63.7,"m":1},{"x":102.7,"y":63.7,"m":1},{"x":103.7,"y":63.7,"m":1},{"x":104.7,"y":63.7,"m":0.5},{"x":105.7,"y":63.7,"m":0.5},{"x":99.7,"y":64.7,"m":1},{"x":100.7,"y":64.7,"m":1},{"x":101.7,"y":64.7,"m":1},{"x":102.7,"y":64.7,"m":1},{"x":103.7,"y":64.7,"m":1},{"x":104.7,"y":64.7,"m":0.5},{"x":105.7,"y":64.7,"m":0.5},{"x":106.7,"y":64.7,"m":0.2},{"x":98.7,"y":65.7,"m":1},{"x":99.7,"y":65.7,"m":1},{"x":100.7,"y":65.7,"m":1},{"x":101.7,"y":65.7,"m":1},{"x":102.7,"y":65.7,"m":1},{"x":103.7,"y":65.7,"m":1},{"x":104.7,"y":65.7,"m":1},{"x":105.7,"y":65.7,"m":0.5},{"x":106.7,"y":65.7,"m":0.2},{"x":98.7,"y":66.7,"m":1},{"x":99.7,"y":66.7,"m":1},{"x":100.7,"y":66.7,"m":1},{"x":101.7,"y":66.7,"m":1},{"x":102.7,"y":66.7,"m":1},{"x":103.7,"y":66.7,"m":1},{"x":104.7,"y":66.7,"m":1},{"x":105.7,"y":66.7,"m":0.2},{"x":106.7,"y":66.7,"m":0.2},
{"x":114.5,"y":66.7,"m":0.2},{"x":115.5,"y":66.7,"m":0.2},{"x":116.5,"y":66.7,"m":0.2},{"x":117.5,"y":66.7,"m":0.2},{"x":118.5,"y":66.7,"m":0.2},{"x":119.5,"y":66.7,"m":0.2},{"x":114.5,"y":67.7,"m":0.2},{"x":115.5,"y":67.7,"m":1},{"x":116.5,"y":67.7,"m":1},{"x":117.5,"y":67.7,"m":1},{"x":118.5,"y":67.7,"m":1},{"x":119.5,"y":67.7,"m":0.2},{"x":120.5,"y":67.7,"m":0.2},{"x":121.5,"y":67.7,"m":0.2},{"x":122.5,"y":67.7,"m":0.2},{"x":115.5,"y":68.7,"m":1},{"x":116.5,"y":68.7,"m":1},{"x":117.5,"y":68.7,"m":1},{"x":118.5,"y":68.7,"m":1},{"x":119.5,"y":68.7,"m":1},{"x":120.5,"y":68.7,"m":1},{"x":121.5,"y":68.7,"m":0.2},{"x":122.5,"y":68.7,"m":0.2},{"x":115.5,"y":69.7,"m":0.5},{"x":116.5,"y":69.7,"m":1},{"x":117.5,"y":69.7,"m":1},{"x":118.5,"y":69.7,"m":1},{"x":119.5,"y":69.7,"m":1},{"x":120.5,"y":69.7,"m":1},{"x":121.5,"y":69.7,"m":0.2},{"x":122.5,"y":69.7,"m":0.2},{"x":115.5,"y":70.7,"m":0.5},{"x":116.5,"y":70.7,"m":1},{"x":117.5,"y":70.7,"m":1},{"x":118.5,"y":70.7,"m":1},{"x":119.5,"y":70.7,"m":1},{"x":120.5,"y":70.7,"m":0.2},{"x":121.5,"y":70.7,"m":0.2},{"x":115.5,"y":71.7,"m":0.2},{"x":116.5,"y":71.7,"m":0.5},{"x":117.5,"y":71.7,"m":1},{"x":118.5,"y":71.7,"m":1},{"x":119.5,"y":71.7,"m":0.2},{"x":120.5,"y":71.7,"m":0.2},{"x":116.5,"y":72.7,"m":0.2},{"x":117.5,"y":72.7,"m":0.2},{"x":118.5,"y":72.7,"m":0.2},{"x":119.5,"y":72.7,"m":0.2},{"x":116.5,"y":73.7,"m":0.2},{"x":117.5,"y":73.7,"m":0.2},
{"x":132.4,"y":67.7,"m":1},{"x":133.4,"y":67.7,"m":1},{"x":134.4,"y":67.7,"m":1},{"x":131.4,"y":68.7,"m":0.5},{"x":132.4,"y":68.7,"m":1},{"x":133.4,"y":68.7,"m":1},{"x":134.4,"y":68.7,"m":1},{"x":135.4,"y":68.7,"m":0.5},{"x":130.4,"y":69.7,"m":0.5},{"x":131.4,"y":69.7,"m":0.5},{"x":132.4,"y":69.7,"m":1},{"x":133.4,"y":69.7,"m":1},{"x":134.4,"y":69.7,"m":1},{"x":135.4,"y":69.7,"m":0.5},{"x":136.4,"y":69.7,"m":0.5},{"x":130.4,"y":70.7,"m":0.5},{"x":131.4,"y":70.7,"m":1},{"x":132.4,"y":70.7,"m":1},{"x":133.4,"y":70.7,"m":1},{"x":134.4,"y":70.7,"m":1},{"x":135.4,"y":70.7,"m":1},{"x":136.4,"y":70.7,"m":0.5},{"x":129.4,"y":71.7,"m":0.2},{"x":130.4,"y":71.7,"m":0.5},{"x":131.4,"y":71.7,"m":1},{"x":132.4,"y":71.7,"m":1},{"x":133.4,"y":71.7,"m":1},{"x":134.4,"y":71.7,"m":1},{"x":135.4,"y":71.7,"m":1},{"x":136.4,"y":71.7,"m":0.5},{"x":137.4,"y":71.7,"m":0.2},{"x":128.4,"y":72.7,"m":0.2},{"x":129.4,"y":72.7,"m":0.2},{"x":130.4,"y":72.7,"m":0.2},{"x":131.4,"y":72.7,"m":1},{"x":132.4,"y":72.7,"m":1},{"x":133.4,"y":72.7,"m":1},{"x":134.4,"y":72.7,"m":1},{"x":135.4,"y":72.7,"m":1},{"x":136.4,"y":72.7,"m":0.2},{"x":137.4,"y":72.7,"m":0.2},{"x":138.4,"y":72.7,"m":0.2},{"x":129.4,"y":73.7,"m":0.2},{"x":130.4,"y":73.7,"m":0.2},{"x":131.4,"y":73.7,"m":0.2},{"x":132.4,"y":73.7,"m":0.2},{"x":133.4,"y":73.7,"m":0.2},{"x":134.4,"y":73.7,"m":0.2},{"x":135.4,"y":73.7,"m":0.2},{"x":136.4,"y":73.7,"m":0.2},{"x":137.4,"y":73.7,"m":0.2},
{"x":146.3,"y":66.7,"m":0.2},{"x":147.3,"y":66.7,"m":0.2},{"x":148.3,"y":66.7,"m":0.2},{"x":149.3,"y":66.7,"m":0.2},{"x":150.3,"y":66.7,"m":0.2},{"x":151.3,"y":66.7,"m":0.2},{"x":145.3,"y":67.7,"m":0.2},{"x":146.3,"y":67.7,"m":1},{"x":147.3,"y":67.7,"m":1},{"x":148.3,"y":67.7,"m":1},{"x":149.3,"y":67.7,"m":1},{"x":150.3,"y":67.7,"m":1},{"x":151.3,"y":67.7,"m":1},{"x":152.3,"y":67.7,"m":0.2},{"x":145.3,"y":68.7,"m":0.2},{"x":146.3,"y":68.7,"m":1},{"x":147.3,"y":68.7,"m":1},{"x":148.3,"y":68.7,"m":1},{"x":149.3,"y":68.7,"m":1},{"x":150.3,"y":68.7,"m":1},{"x":151.3,"y":68.7,"m":0.5},{"x":146.3,"y":69.7,"m":1},{"x":147.3,"y":69.7,"m":1},{"x":148.3,"y":69.7,"m":1},{"x":149.3,"y":69.7,"m":1},{"x":150.3,"y":69.7,"m":0.5},{"x":151.3,"y":69.7,"m":0.5},{"x":146.3,"y":70.7,"m":0.2},{"x":147.3,"y":70.7,"m":1},{"x":148.3,"y":70.7,"m":1},{"x":149.3,"y":70.7,"m":1},{"x":150.3,"y":70.7,"m":0.5},{"x":151.3,"y":70.7,"m":0.2},{"x":146.3,"y":71.7,"m":0.2},{"x":147.3,"y":71.7,"m":1},{"x":148.3,"y":71.7,"m":1},{"x":149.3,"y":71.7,"m":0.5},{"x":150.3,"y":71.7,"m":0.5},{"x":147.3,"y":72.7,"m":0.2},{"x":148.3,"y":72.7,"m":0.5},{"x":149.3,"y":72.7,"m":0.5},{"x":150.3,"y":72.7,"m":0.2},{"x":148.3,"y":73.7,"m":0.2},{"x":149.3,"y":73.7,"m":0.2},{"x":150.3,"y":73.7,"m":0.2}
]},"mark":{"type":"rect","width":17.7,"height":17.7,"stroke":"#6f868b","strokeWidth":1.8},"encoding":{"x":{"field":"x","type":"quantitative","scale":{"domain":[0,180.53],"nice":false,"zero":false},"axis":null},"y":{"field":"y","type":"quantitative","scale":{"domain":[88.21,0],"nice":false,"zero":false},"axis":null},"color":{"field":"m","type":"ordinal","legend":null,"scale":{"domain":[1,0.9,0.8,0.7,0.6,0.5,0.4,0.3,0.2,0.1],"range":["#00677a","#00788f","#008b99","#169ba8","#43aab6","#65b9c5","#84cbd1","#a7dce1","#c7ecee","#ebfafc"]}}}},
{"encoding":{"x":{"field":"x","type":"quantitative","scale":{"domain":[0,3199],"nice":false,"zero":false},"axis":null},"y":{"field":"y","type":"quantitative","scale":{"domain":[1563,0],"nice":false,"zero":false},"axis":null}},"layer":[
{"data":{"values":[{"x":709,"y":230,"x2":709,"y2":1256},{"x":1024.6,"y":230,"x2":1024.6,"y2":1256},{"x":1340,"y":230,"x2":1340,"y2":1256},{"x":1656.5,"y":230,"x2":1656.5,"y2":1256},{"x":1967,"y":230,"x2":1967,"y2":1256},{"x":2230.6,"y":230,"x2":2230.6,"y2":1256},{"x":2501.5,"y":230,"x2":2501.5,"y2":1256},{"x":355,"y":653,"x2":2765,"y2":653},{"x":355,"y":1005,"x2":2765,"y2":1005}]},"mark":{"type":"rule","color":"#4a4a4a","strokeWidth":2},"encoding":{"x2":{"field":"x2"},"y2":{"field":"y2"}}},
{"data":{"values":[{"x":398,"y":45,"x2":2789,"y2":128},{"x":398,"y":135,"x2":683,"y2":214},{"x":714,"y":135,"x2":1000,"y2":214},{"x":1030,"y":135,"x2":1316,"y2":214},{"x":1346,"y":135,"x2":1632,"y2":214},{"x":1663,"y":135,"x2":1948,"y2":214},{"x":1967,"y":135,"x2":2220,"y2":214},{"x":2234,"y":135,"x2":2487,"y2":214},{"x":2501,"y":135,"x2":2789,"y2":214}]},"mark":{"type":"rect","fill":"#f2f2f2","stroke":"#262626","strokeWidth":2.5},"encoding":{"x2":{"field":"x2"},"y2":{"field":"y2"}}},
{"data":{"values":[{"x":1593,"y":86,"label":"Direction"},{"x":540,"y":175,"label":"Left"},{"x":857,"y":175,"label":"Left front"},{"x":1173,"y":175,"label":"Front"},{"x":1489,"y":175,"label":"Right front"},{"x":1805,"y":175,"label":"Right"},{"x":2093,"y":175,"label":"Right rear"},{"x":2360,"y":175,"label":"Rear"},{"x":2645,"y":175,"label":"Left rear"}]},"mark":{"type":"text","font":"Liberation Serif","fontStyle":"italic","fontSize":41,"color":"#111","baseline":"middle","align":"center"},"encoding":{"text":{"field":"label"}}},
{"data":{"values":[{"x":155,"y":404,"label":"FSREM-OP"},{"x":153,"y":830,"label":"MSKC"},{"x":155,"y":1151,"label":"VR-FSRKE"}]},"mark":{"type":"text","font":"Liberation Serif","fontSize":44,"color":"#111","baseline":"middle","align":"center"},"encoding":{"text":{"field":"label"}}},
{"data":{"values":[{"x":511.5,"y":445},{"x":1815.5,"y":430},{"x":525,"y":818},{"x":1816,"y":820},{"x":525,"y":1159},{"x":1815,"y":1162}]},"mark":{"type":"point","shape":"circle","size":99856,"filled":false,"stroke":"#7030a0","strokeWidth":4.5,"strokeDash":[20,14],"opacity":1}},
{"data":{"values":[{"x":603.2,"top":441,"bottom":533},{"x":885,"top":441,"bottom":533},{"x":1166.4,"top":441,"bottom":533},{"x":1448,"top":441,"bottom":533},{"x":1730.6,"top":441,"bottom":533},{"x":2011,"top":441,"bottom":533},{"x":2363.8,"top":441,"bottom":533},{"x":2715.8,"top":441,"bottom":533},{"x":603.2,"top":794,"bottom":885},{"x":885,"top":794,"bottom":885},{"x":1166.4,"top":794,"bottom":885},{"x":1448,"top":794,"bottom":885},{"x":1730.6,"top":794,"bottom":885},{"x":2011,"top":794,"bottom":885},{"x":2363.8,"top":794,"bottom":885},{"x":2715.8,"top":794,"bottom":885},{"x":603.2,"top":1147,"bottom":1237},{"x":885,"top":1147,"bottom":1237},{"x":1166.4,"top":1147,"bottom":1237},{"x":1448,"top":1147,"bottom":1237},{"x":1730.6,"top":1147,"bottom":1237},{"x":2011,"top":1147,"bottom":1237},{"x":2363.8,"top":1147,"bottom":1237},{"x":2715.8,"top":1147,"bottom":1237}]},"mark":{"type":"rule","color":"#ff0000","strokeWidth":3},"encoding":{"y":{"field":"top"},"y2":{"field":"bottom"}}},
{"data":{"values":[{"x":603.2,"y":434.5},{"x":885,"y":434.5},{"x":1166.4,"y":434.5},{"x":1448,"y":434.5},{"x":1730.6,"y":434.5},{"x":2011,"y":434.5},{"x":2363.8,"y":434.5},{"x":2715.8,"y":434.5},{"x":603.2,"y":787.5},{"x":885,"y":787.5},{"x":1166.4,"y":787.5},{"x":1448,"y":787.5},{"x":1730.6,"y":787.5},{"x":2011,"y":787.5},{"x":2363.8,"y":787.5},{"x":2715.8,"y":787.5},{"x":603.2,"y":1140},{"x":885,"y":1140},{"x":1166.4,"y":1140},{"x":1448,"y":1140},{"x":1730.6,"y":1140},{"x":2011,"y":1140},{"x":2363.8,"y":1140},{"x":2715.8,"y":1140}]},"mark":{"type":"point","shape":"M 0 -0.75 L -1 0.75 L 1 0.75 Z","size":1296,"filled":true,"color":"#ff0000","opacity":1}},
{"data":{"values":[{"x":603.2,"y":476.7},{"x":885,"y":476.7},{"x":1166.4,"y":476.7},{"x":1448,"y":476.7},{"x":1730.6,"y":476.7},{"x":2011,"y":476.7},{"x":2363.8,"y":476.7},{"x":2715.8,"y":476.7},{"x":603.2,"y":829},{"x":885,"y":829},{"x":1166.4,"y":829},{"x":1448,"y":829},{"x":1730.6,"y":829},{"x":2011,"y":829},{"x":2363.8,"y":829},{"x":2715.8,"y":829},{"x":603.2,"y":1181.7},{"x":885,"y":1181.7},{"x":1166.4,"y":1181.7},{"x":1448,"y":1181.7},{"x":1730.6,"y":1181.7},{"x":2011,"y":1181.7},{"x":2363.8,"y":1181.7},{"x":2715.8,"y":1181.7}]},"mark":{"type":"point","shape":"circle","size":1600,"filled":true,"fill":"#ff0000","stroke":"#1a1a1a","strokeWidth":2,"opacity":1}},
{"data":{"values":[{"x":727,"y":554,"x2":1276,"y2":651},{"x":735,"y":906,"x2":1341,"y2":1003},{"x":725,"y":1321,"x2":1273,"y2":1418}]},"mark":{"type":"rect","fill":"#ffc000","stroke":"#111","strokeWidth":3.5},"encoding":{"x2":{"field":"x2"},"y2":{"field":"y2"}}},
{"data":{"values":[{"x":1001,"y":603,"label":"Symmetrical"},{"x":1037,"y":953,"label":"Asymmetrical and smaller"}]},"mark":{"type":"text","font":"Liberation Serif","fontSize":49,"color":"#111","baseline":"middle","align":"center"},"encoding":{"text":{"field":"label"}}},
{"data":{"values":[{"x":999,"y":1369,"label":"Closer to MSKC"}]},"mark":{"type":"text","font":"Liberation Serif","fontSize":39,"color":"#111","baseline":"middle","align":"center"},"encoding":{"text":{"field":"label"}}},
{"data":{"values":[{"x":624,"y":556,"x2":714,"y2":598},{"x":1707.6,"y":541.7,"x2":1290,"y2":600},{"x":658,"y":900.7,"x2":726,"y2":969},{"x":1707.6,"y":932.7,"x2":1356,"y2":961},{"x":634,"y":1271.7,"x2":716,"y2":1369},{"x":1707.6,"y":1274,"x2":1286,"y2":1366}]},"mark":{"type":"rule","color":"#7030a0","strokeWidth":5},"encoding":{"x2":{"field":"x2"},"y2":{"field":"y2"}}},
{"data":{"values":[{"x":714,"y":598,"heading":114.7},{"x":1290,"y":600,"heading":262},{"x":726,"y":969,"heading":135},{"x":1356,"y":961,"heading":265.5},{"x":716,"y":1369,"heading":140},{"x":1286,"y":1366,"heading":257.7}]},"mark":{"type":"point","shape":"triangle-up","size":800,"filled":true,"color":"#7030a0","opacity":1},"encoding":{"angle":{"field":"heading","type":"quantitative","scale":null}}},
{"data":{"values":[{"x":2860,"y":228,"label":"N"}]},"mark":{"type":"text","font":"Liberation Serif","fontSize":26,"color":"#8a8a8a","baseline":"middle","align":"center"},"encoding":{"text":{"field":"label"}}},
{"data":{"values":[{"x":2860,"y":288.5}]},"mark":{"type":"point","shape":"M 0 -1 L -0.82 1 L 0 0.56 L 0.82 1 Z","size":5329,"filled":true,"color":"#000","opacity":1}},
{"data":{"values":[{"x":3048,"y":302,"label":"Membership"}]},"mark":{"type":"text","font":"Liberation Serif","fontSize":43,"color":"#111","baseline":"middle","align":"center"},"encoding":{"text":{"field":"label"}}},
{"data":{"values":[{"x":2993,"x2":3088,"y":336,"y2":373,"m":1},{"x":2993,"x2":3088,"y":373,"y2":410,"m":0.9},{"x":2993,"x2":3088,"y":410,"y2":447,"m":0.8},{"x":2993,"x2":3088,"y":447,"y2":484,"m":0.7},{"x":2993,"x2":3088,"y":484,"y2":521,"m":0.6},{"x":2993,"x2":3088,"y":521,"y2":558,"m":0.5},{"x":2993,"x2":3088,"y":558,"y2":595,"m":0.4},{"x":2993,"x2":3088,"y":595,"y2":632,"m":0.3},{"x":2993,"x2":3088,"y":632,"y2":669,"m":0.2},{"x":2993,"x2":3088,"y":669,"y2":707,"m":0.1}]},"mark":{"type":"rect"},"encoding":{"x2":{"field":"x2"},"y2":{"field":"y2"},"color":{"field":"m","type":"ordinal","legend":null,"scale":{"domain":[1,0.9,0.8,0.7,0.6,0.5,0.4,0.3,0.2,0.1],"range":["#00677a","#00788f","#008b99","#169ba8","#43aab6","#65b9c5","#84cbd1","#a7dce1","#c7ecee","#ebfafc"]}}}},
{"data":{"values":[{"x":2993,"x2":3088,"y":336,"y2":707}]},"mark":{"type":"rect","fill":null,"stroke":"#111","strokeWidth":3},"encoding":{"x2":{"field":"x2"},"y2":{"field":"y2"}}},
{"data":{"values":[{"x":3088,"x2":3107,"y":354,"y2":354},{"x":3088,"x2":3107,"y":535,"y2":535},{"x":3088,"x2":3107,"y":689,"y2":689}]},"mark":{"type":"rule","color":"#111","strokeWidth":3},"encoding":{"x2":{"field":"x2"},"y2":{"field":"y2"}}},
{"data":{"values":[{"x":3112,"y":355,"label":"1.0"},{"x":3112,"y":536,"label":"5.0"},{"x":3112,"y":690,"label":"0.1"}]},"mark":{"type":"text","font":"Liberation Serif","fontSize":36,"color":"#111","baseline":"middle","align":"left"},"encoding":{"text":{"field":"label"}}},
{"data":{"values":[{"x":3042.7,"top":973,"bottom":1042.7}]},"mark":{"type":"rule","color":"#ff4d4d","strokeWidth":3},"encoding":{"y":{"field":"top"},"y2":{"field":"bottom"}}},
{"data":{"values":[{"x":3042.7,"y":962.5}]},"mark":{"type":"point","shape":"M 0 -0.75 L -1 0.75 L 1 0.75 Z","size":841,"filled":true,"color":"#ff2020","opacity":1}},
{"data":{"values":[{"x":3042.7,"y":1004}]},"mark":{"type":"point","shape":"circle","size":625,"filled":true,"fill":"#ff0000","stroke":"#1a1a1a","strokeWidth":2.5,"opacity":1}},
{"data":{"values":[{"x":3042,"y":1060,"label":"Observer’s"},{"x":3042,"y":1110,"label":"location and"},{"x":3042,"y":1158,"label":"direction"}]},"mark":{"type":"text","font":"Liberation Serif","fontSize":41,"color":"#111","baseline":"middle","align":"center"},"encoding":{"text":{"field":"label"}}},
{"data":{"values":[{"x":2164,"x2":2692,"y":1477,"y2":1517}]},"mark":{"type":"rect","fill":null,"stroke":"#111","strokeWidth":3},"encoding":{"x2":{"field":"x2"},"y2":{"field":"y2"}}},
{"data":{"values":[{"x":2164,"y":1497,"x2":2252,"y2":1497},{"x":2340,"y":1497,"x2":2517,"y2":1497},{"x":2252,"y":1477,"x2":2252,"y2":1517},{"x":2340,"y":1477,"x2":2340,"y2":1517},{"x":2517,"y":1477,"x2":2517,"y2":1517}]},"mark":{"type":"rule","color":"#111","strokeWidth":2.5},"encoding":{"x2":{"field":"x2"},"y2":{"field":"y2"}}},
{"data":{"values":[{"x":2164,"y":1442,"label":"5"},{"x":2252,"y":1442,"label":"2.5"},{"x":2340,"y":1442,"label":"0"},{"x":2517,"y":1442,"label":"5"},{"x":2692,"y":1442,"label":"10"}]},"mark":{"type":"text","font":"Liberation Sans","fontSize":35,"color":"#222","baseline":"middle","align":"center"},"encoding":{"text":{"field":"label"}}},
{"data":{"values":[{"x":2708,"y":1499,"label":"Meter"}]},"mark":{"type":"text","font":"Liberation Sans","fontSize":46,"color":"#222","baseline":"middle","align":"left"},"encoding":{"text":{"field":"label"}}}
]}
]}
